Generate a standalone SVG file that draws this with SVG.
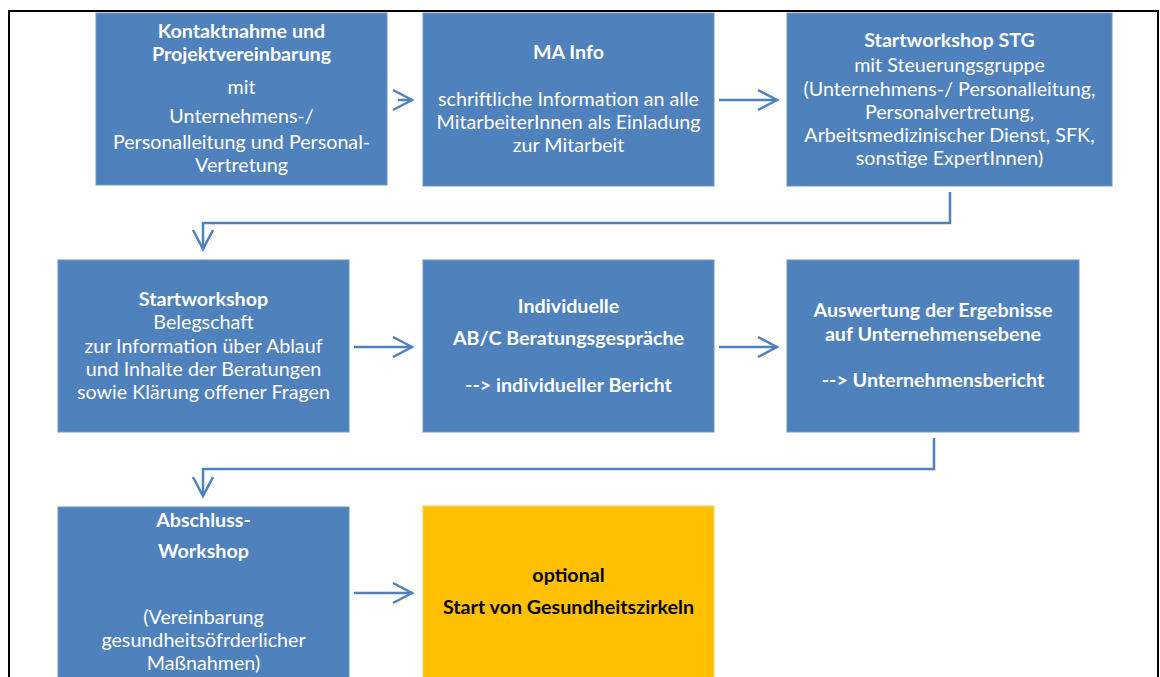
<svg xmlns="http://www.w3.org/2000/svg" width="1160" height="677" viewBox="0 0 1160 677">
<style>
.box{fill:#4F81BD;stroke:#6C96C8;stroke-width:1}
.opt{fill:#FFC000;stroke:#F5CF6A;stroke-width:1}
text{font-family:Lato,"Open Sans","Liberation Sans",sans-serif;font-size:19.7px;fill:#FFFFFF;text-anchor:middle}
.b{font-weight:bold}
.dk{fill:#000000}
.con{fill:none;stroke:#4F81BD;stroke-width:2.5}
</style>
<defs>
<marker id="ah" markerUnits="userSpaceOnUse" markerWidth="26" markerHeight="26" refX="21" refY="13" orient="auto">
<path d="M2,3 L21,13 L2,23" fill="none" stroke="#4F81BD" stroke-width="2.5"/>
</marker>
</defs>
<rect x="0" y="0" width="1160" height="677" fill="#FFFFFF"/>
<path d="M9,677 V11 H1158 V677" fill="none" stroke="#000000" stroke-width="2"/>

<g id="connectors">
<path class="con" d="M398,100 H412" marker-end="url(#ah)"/>
<path class="con" d="M719,100 H777" marker-end="url(#ah)"/>
<path class="con" d="M950,192 V223 H203 V249" marker-end="url(#ah)"/>
<path class="con" d="M354,347 H412" marker-end="url(#ah)"/>
<path class="con" d="M719,347 H777" marker-end="url(#ah)"/>
<path class="con" d="M934,438 V469 H203 V496" marker-end="url(#ah)"/>
<path class="con" d="M354,593 H412" marker-end="url(#ah)"/>
</g>

<g id="n1">
<rect class="box" x="96" y="13" width="291" height="172"/>
<text class="b" x="241.5" y="38">Kontaktnahme und</text>
<text class="b" x="241.5" y="61">Projektvereinbarung</text>
<text x="241.5" y="94">mit</text>
<text x="241.5" y="123">Unternehmens-/</text>
<text x="241.5" y="149">Personalleitung und Personal-</text>
<text x="241.5" y="172">Vertretung</text>
</g>

<g id="n2">
<rect class="box" x="423" y="13" width="291" height="173"/>
<text class="b" x="568.5" y="59">MA Info</text>
<text x="568.5" y="106">schriftliche Information an alle</text>
<text x="568.5" y="129">MitarbeiterInnen als Einladung</text>
<text x="568.5" y="152">zur Mitarbeit</text>
</g>

<g id="n3">
<rect class="box" x="787" y="13" width="325" height="173"/>
<text class="b" x="949.5" y="47">Startworkshop STG</text>
<text x="949.5" y="72">mit Steuerungsgruppe</text>
<text x="949.5" y="96">(Unternehmens-/ Personalleitung,</text>
<text x="949.5" y="119">Personalvertretung,</text>
<text x="949.5" y="142">Arbeitsmedizinischer Dienst, SFK,</text>
<text x="949.5" y="165">sonstige ExpertInnen)</text>
</g>

<g id="n4">
<rect class="box" x="58" y="260" width="291" height="172"/>
<text class="b" x="203.5" y="306">Startworkshop</text>
<text x="203.5" y="329">Belegschaft</text>
<text x="203.5" y="353">zur Information über Ablauf</text>
<text x="203.5" y="376">und Inhalte der Beratungen</text>
<text x="203.5" y="399">sowie Klärung offener Fragen</text>
</g>

<g id="n5">
<rect class="box" x="423" y="260" width="291" height="172"/>
<text class="b" x="568.5" y="313">Individuelle</text>
<text class="b" x="568.5" y="345">AB/C Beratungsgespräche</text>
<text class="b" x="568.5" y="392">--&gt; individueller Bericht</text>
</g>

<g id="n6">
<rect class="box" x="787" y="260" width="292" height="172"/>
<text class="b" x="933" y="317">Auswertung der Ergebnisse</text>
<text class="b" x="933" y="341">auf Unternehmensebene</text>
<text class="b" x="933" y="387">--&gt; Unternehmensbericht</text>
</g>

<g id="n7">
<rect class="box" x="58" y="507" width="291" height="180"/>
<text class="b" x="203.5" y="527">Abschluss-</text>
<text class="b" x="203.5" y="558">Workshop</text>
<text x="203.5" y="624">(Vereinbarung</text>
<text x="203.5" y="647">gesundheitsöfrderlicher</text>
<text x="203.5" y="670">Maßnahmen)</text>
</g>

<g id="n8">
<rect class="opt" x="423" y="506" width="291" height="180"/>
<text class="b dk" x="568.5" y="582">optional</text>
<text class="b dk" x="568.5" y="614">Start von Gesundheitszirkeln</text>
</g>
</svg>
